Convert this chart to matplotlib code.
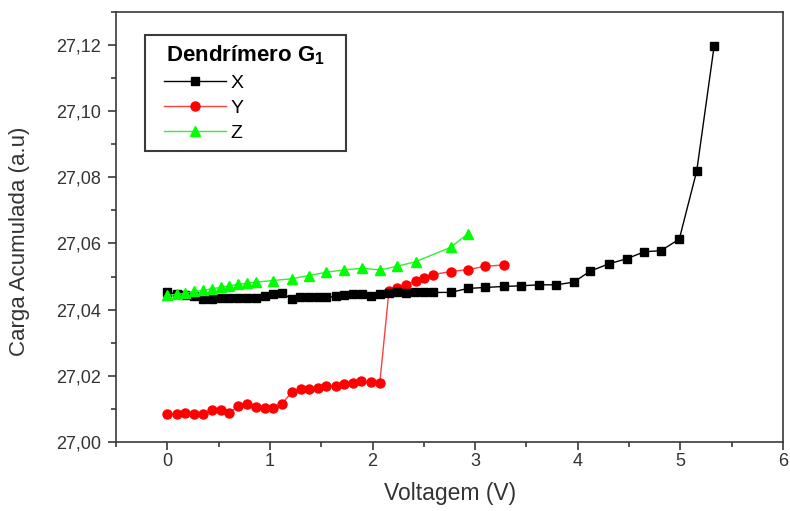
import matplotlib
matplotlib.use("Agg")
import matplotlib.pyplot as plt
from matplotlib.ticker import MultipleLocator, FuncFormatter
from matplotlib.lines import Line2D
from matplotlib.legend_handler import HandlerLine2D

plt.rcParams['font.family'] = ['Liberation Sans', 'DejaVu Sans']
plt.rcParams['mathtext.fontset'] = 'custom'
plt.rcParams['mathtext.rm'] = 'Liberation Sans'
plt.rcParams['mathtext.bf'] = 'Liberation Sans:bold'

# ---- data ----
x_X = [0.00, 0.09, 0.17, 0.26, 0.35, 0.43, 0.52, 0.60, 0.69, 0.78, 0.86, 0.95, 1.03, 1.12,
       1.21, 1.29, 1.38, 1.47, 1.55, 1.64, 1.72, 1.81, 1.90, 1.98, 2.07, 2.16, 2.24, 2.33,
       2.41, 2.50, 2.59, 2.76, 2.93, 3.10, 3.28, 3.45, 3.62, 3.79, 3.96, 4.12, 4.30, 4.48,
       4.65, 4.81, 4.99, 5.16, 5.33]
y_X = [27.0452, 27.0448, 27.0443, 27.0440, 27.0433, 27.0433, 27.0436, 27.0434, 27.0434,
       27.0434, 27.0434, 27.0440, 27.0446, 27.0449, 27.0433, 27.0437, 27.0437, 27.0437,
       27.0437, 27.0440, 27.0443, 27.0446, 27.0446, 27.0440, 27.0448, 27.0451, 27.0452,
       27.0450, 27.0452, 27.0452, 27.0452, 27.0452, 27.0464, 27.0467, 27.0470, 27.0472,
       27.0475, 27.0475, 27.0483, 27.0516, 27.0538, 27.0554, 27.0575, 27.0578, 27.0613,
       27.0819, 27.1197]

x_Y = [0.00, 0.09, 0.17, 0.26, 0.35, 0.43, 0.52, 0.60, 0.69, 0.78, 0.86, 0.95, 1.03, 1.12,
       1.21, 1.30, 1.38, 1.47, 1.55, 1.64, 1.72, 1.81, 1.89, 1.98, 2.07, 2.16, 2.24, 2.33,
       2.42, 2.50, 2.59, 2.76, 2.93, 3.10, 3.28]
y_Y = [27.0084, 27.0084, 27.0089, 27.0084, 27.0085, 27.0097, 27.0097, 27.0088, 27.0108,
       27.0114, 27.0106, 27.0103, 27.0102, 27.0116, 27.0150, 27.0159, 27.0160, 27.0163,
       27.0168, 27.0169, 27.0175, 27.0178, 27.0183, 27.0180, 27.0178, 27.0457, 27.0465,
       27.0474, 27.0488, 27.0496, 27.0506, 27.0515, 27.0521, 27.0531, 27.0535]

x_Z = [0.00, 0.09, 0.17, 0.26, 0.35, 0.43, 0.52, 0.60, 0.69, 0.78, 0.86, 1.03, 1.21, 1.38,
       1.55, 1.72, 1.90, 2.07, 2.24, 2.42, 2.76, 2.93]
y_Z = [27.0443, 27.0446, 27.0449, 27.0455, 27.0458, 27.0463, 27.0467, 27.0472, 27.0476,
       27.0480, 27.0483, 27.0488, 27.0493, 27.0503, 27.0513, 27.0520, 27.0525, 27.0520,
       27.0531, 27.0545, 27.0588, 27.0629]

labels = ['X', 'Y', 'Z']
legend_title = r'Dendrímero G$_{\mathbf{1}}$'

fig = plt.figure(figsize=(7.9, 5.11), dpi=100)
ax = fig.add_axes([0.147, 0.135, 0.844, 0.842])

ax.plot(x_X, y_X, color='black', lw=1.0, marker='s', ms=6, mfc='black', mec='black', label=labels[0], zorder=3)
ax.plot(x_Y, y_Y, color='#ff4040', lw=1.0, marker='o', ms=6.5, mfc='#ff0000', mec='#ff0000', label=labels[1], zorder=2)
ax.plot(x_Z, y_Z, color='#33ee33', lw=1.0, marker='^', ms=7.5, mfc='#00ff00', mec='#00ff00', label=labels[2], zorder=4)

ax.set_xlim(-0.5, 6)
ax.set_ylim(27.0, 27.13)
ax.xaxis.set_major_locator(MultipleLocator(1))
ax.xaxis.set_minor_locator(MultipleLocator(0.5))
ax.yaxis.set_major_locator(MultipleLocator(0.02))
ax.yaxis.set_minor_locator(MultipleLocator(0.01))
ax.yaxis.set_major_formatter(FuncFormatter(lambda v, p: f"{v:.2f}".replace('.', ',')))
ax.xaxis.set_major_formatter(FuncFormatter(lambda v, p: f"{v:.0f}"))

for s in ax.spines.values():
    s.set_color('#3a3a3a')
    s.set_linewidth(1.2)
ax.tick_params(which='major', direction='out', length=6, width=1.2, colors='#3a3a3a',
               labelsize=13, labelcolor='#333333')
ax.tick_params(which='minor', direction='out', length=3.5, width=1.2, colors='#3a3a3a')
ax.tick_params(axis='x', which='major', pad=2)
ax.tick_params(axis='y', which='major', pad=5)

ax.set_xlabel('Voltagem (V)', fontsize=16.5, color='#333333')
ax.set_ylabel('Carga Acumulada (a.u)', fontsize=16, color='#333333')
ax.xaxis.set_label_coords(0.5015, -0.093)
ax.yaxis.set_label_coords(-0.129, 0.466)

leg = ax.legend(loc='upper left', bbox_to_anchor=(0.0435, 0.9465, 0.301, 0.0), mode='expand',
                borderaxespad=0, title=legend_title, fancybox=False, fontsize=14,
                handlelength=3.7, handletextpad=0.25, labelspacing=0.38, borderpad=0.45,
                framealpha=1, handler_map={Line2D: HandlerLine2D(xpad=0.5)})
leg.get_title().set_fontweight('bold')
leg.get_title().set_fontsize(16)
leg.get_frame().set_edgecolor('#3a3a3a')
leg.get_frame().set_linewidth(1.5)

fig.savefig('out.png', dpi=100)
